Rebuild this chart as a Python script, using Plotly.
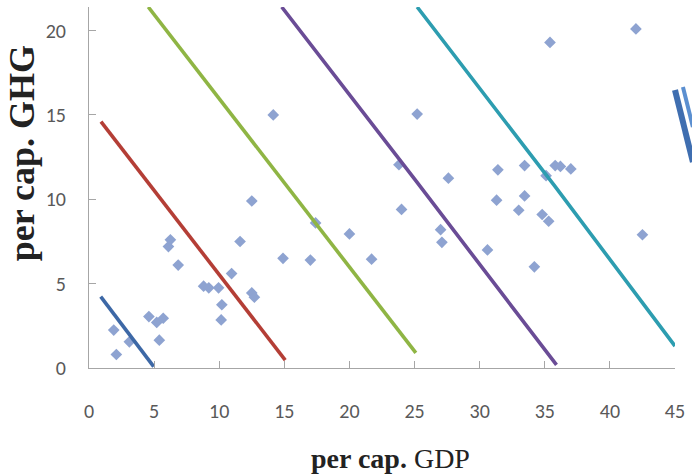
import plotly.graph_objects as go

# Per-capita GDP (x) and per-capita GHG (y) observations
gdp = [1.9, 2.1, 3.1, 4.6, 5.2, 5.7, 5.4, 6.1, 6.25, 6.85,
       8.8, 9.2, 9.95, 10.2, 10.15, 10.95, 11.6, 12.5, 12.5, 12.7,
       14.15, 14.9, 17.0, 17.4, 20.0, 21.7, 23.8, 24.0, 25.2,
       27.0, 27.1, 27.6, 30.6, 31.3, 31.4, 33.0, 33.45, 33.45, 34.2,
       34.8, 35.1, 35.3, 35.4, 35.8, 36.2, 37.0, 42.0, 42.5]
ghg = [2.25, 0.8, 1.55, 3.05, 2.7, 2.95, 1.65, 7.2, 7.6, 6.1,
       4.85, 4.75, 4.75, 3.75, 2.85, 5.6, 7.5, 9.9, 4.45, 4.2,
       15.0, 6.5, 6.4, 8.6, 7.95, 6.45, 12.05, 9.4, 15.05,
       8.2, 7.45, 11.25, 7.0, 9.95, 11.75, 9.35, 10.2, 12.0, 6.0,
       9.1, 11.4, 8.7, 19.3, 12.0, 11.95, 11.8, 20.1, 7.9]

# Iso-lines (GDP, GHG) traced across the plane
iso_names = ["iso 5", "iso 15", "iso 26", "iso 36", "iso 46"]
iso_x = [
    [0.9, 4.97],
    [0.92, 10.7, 15.07],
    [4.55, 13.1, 25.1],
    [14.8, 25.05, 35.9],
    [25.2, 35.8, 45.0],
]
iso_y = [
    [4.23, 0.08],
    [14.6, 4.85, 0.47],
    [21.4, 12.85, 0.9],
    [21.4, 11.15, 0.18],
    [21.4, 10.75, 1.3],
]
iso_colors = ["#3d68a6", "#b43e36", "#8fb544", "#6a4c96", "#2d9db0"]

x_ticks = [0, 5, 10, 15, 20, 25, 30, 35, 40, 45]
y_ticks = [0, 5, 10, 15, 20]

fig = go.Figure()

fig.add_trace(go.Scatter(
    x=gdp, y=ghg, mode="markers",
    marker=dict(symbol="diamond", size=9, color="#8ea3d1", line=dict(width=0)),
    name="countries",
))

for name, xs, ys, col in zip(iso_names, iso_x, iso_y, iso_colors):
    fig.add_trace(go.Scatter(
        x=xs, y=ys, mode="lines", name=name,
        line=dict(color=col, width=3.6),
    ))

# plot area: x from 89 to 678 px, y from 7 to 368 px
W, H = 692, 476
L, R, T, B = 89, 14, 7, 108
pw, ph = W - L - R, H - T - B


def px(xp):
    return (xp - L) / pw


def py(yp):
    return (H - B - yp) / ph


tick_font = dict(family="Carlito, Lato, sans-serif", size=20, color="#595959")

fig.update_layout(
    width=W, height=H,
    margin=dict(l=L, r=R, t=T, b=B),
    paper_bgcolor="white", plot_bgcolor="white",
    showlegend=False,
    xaxis=dict(
        range=[0, 45], tickvals=x_ticks, ticks="inside", ticklen=7,
        tickcolor="#a6a6a6", showline=True, linecolor="#a6a6a6", linewidth=1,
        showgrid=False, zeroline=False, tickfont=tick_font,
        ticklabelstandoff=25,
    ),
    yaxis=dict(
        range=[0, 21.4], tickvals=y_ticks, ticks="inside", ticklen=7,
        tickcolor="#a6a6a6", showline=True, linecolor="#a6a6a6", linewidth=1,
        showgrid=False, zeroline=False, tickfont=tick_font,
        ticklabelstandoff=18,
    ),
    annotations=[
        dict(
            text="<b>per cap.</b> GDP", xref="paper", yref="paper",
            x=px(392), y=py(458), xanchor="center", yanchor="middle",
            showarrow=False,
            font=dict(family="Liberation Serif, Times New Roman, serif",
                      size=28, color="#222222"),
        ),
        dict(
            text="<b>per cap. GHG</b>", xref="paper", yref="paper",
            x=px(22), y=py(153), xanchor="center", yanchor="middle",
            textangle=-90, showarrow=False,
            font=dict(family="Liberation Serif, Times New Roman, serif",
                      size=36, color="#222222"),
        ),
    ],
    shapes=[
        dict(type="line", xref="paper", yref="paper",
             x0=px(678), y0=py(90), x1=px(696), y1=py(162),
             line=dict(color="#3f6eb0", width=6)),
        dict(type="line", xref="paper", yref="paper",
             x0=px(686), y0=py(87), x1=px(696), y1=py(127),
             line=dict(color="#5b8fd0", width=4)),
    ],
)

fig.write_html("out.html")
